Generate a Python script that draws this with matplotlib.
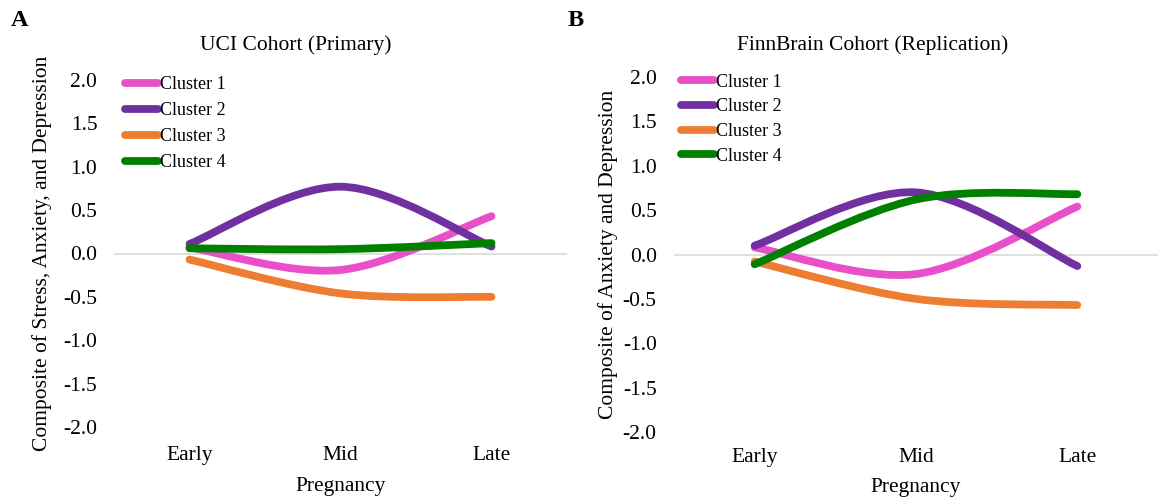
import matplotlib
matplotlib.use('Agg')
import matplotlib.pyplot as plt
from matplotlib.path import Path
from matplotlib.patches import PathPatch
from matplotlib.lines import Line2D

plt.rcParams['font.family'] = ['Liberation Serif', 'DejaVu Serif']

stages = ['Early', 'Mid', 'Late']
clusters = ['Cluster 1', 'Cluster 2', 'Cluster 3', 'Cluster 4']
colors = ['#E84FC8', '#7030A0', '#ED7D31', '#008000']
yticks = [2.0, 1.5, 1.0, 0.5, 0.0, -0.5, -1.0, -1.5, -2.0]

# UCI cohort: composite of stress, anxiety and depression
uci_c1 = [0.07, -0.19, 0.43]
uci_c2 = [0.11, 0.77, 0.08]
uci_c3 = [-0.07, -0.46, -0.50]
uci_c4 = [0.06, 0.05, 0.12]

# FinnBrain cohort: composite of anxiety and depression
finn_c1 = [0.08, -0.22, 0.54]
finn_c2 = [0.10, 0.70, -0.13]
finn_c3 = [-0.08, -0.50, -0.57]
finn_c4 = [-0.11, 0.62, 0.68]

FS = 15.5


def smooth_path(ys):
    # Catmull-Rom style bezier through the points, like a spreadsheet "smoothed line"
    pts = list(zip(range(len(ys)), ys))
    verts = [pts[0]]
    codes = [Path.MOVETO]
    for i in range(len(pts) - 1):
        p0 = pts[i - 1] if i > 0 else pts[i]
        p1 = pts[i]
        p2 = pts[i + 1]
        p3 = pts[i + 2] if i + 2 < len(pts) else pts[i + 1]
        c1 = (p1[0] + (p2[0] - p0[0]) / 6, p1[1] + (p2[1] - p0[1]) / 6)
        c2 = (p2[0] - (p3[0] - p1[0]) / 6, p2[1] - (p3[1] - p1[1]) / 6)
        verts += [c1, c2, p2]
        codes += [Path.CURVE4] * 3
    return Path(verts, codes)


def draw_panel(ax, series, title_x, title, ylabel, ylab_x, ypad, xpad, xlab_y,
               leg_anchor, leg_space):
    ax.axhline(0, color='#d9d9d9', linewidth=1.2, zorder=0)
    for i, (ys, col) in enumerate(zip(series, colors)):
        patch = PathPatch(smooth_path(ys), facecolor='none', edgecolor=col,
                          linewidth=5.6, capstyle='round', joinstyle='round', zorder=2 + i)
        ax.add_patch(patch)
    ax.set_xlim(-0.5, len(stages) - 0.5)
    ax.set_ylim(-2, 2)
    ax.set_xticks(range(len(stages)))
    ax.set_xticklabels(stages)
    ax.set_yticks(yticks)
    ax.set_yticklabels([f'{v:.1f}' for v in yticks])
    ax.tick_params(axis='both', length=0, labelsize=FS)
    ax.tick_params(axis='y', pad=ypad)
    ax.tick_params(axis='x', pad=xpad)
    for s in ax.spines.values():
        s.set_visible(False)
    ax.set_xlabel('Pregnancy', fontsize=FS)
    ax.xaxis.set_label_coords(0.5, xlab_y)
    ax.set_ylabel(ylabel, fontsize=FS)
    ax.yaxis.set_label_coords(ylab_x, 0.5)

    handles = [Line2D([], [], color=c, linewidth=5.6, solid_capstyle='round') for c in colors]
    ax.legend(handles, clusters, loc='upper left', bbox_to_anchor=leg_anchor,
              frameon=False, fontsize=13, handlelength=1.85, handletextpad=0.12,
              labelspacing=leg_space, borderpad=0, borderaxespad=0)
    fig.text(title_x, 1 - 45 / 500, title, ha='center', va='center', fontsize=FS)


fig = plt.figure(figsize=(11.6, 5), dpi=100)
ax1 = fig.add_axes([114 / 1160, 1 - 427 / 500, 453 / 1160, 347 / 500])
ax2 = fig.add_axes([674 / 1160, 1 - 432 / 500, 484 / 1160, 355 / 500])

draw_panel(ax1, [uci_c1, uci_c2, uci_c3, uci_c4], 296 / 1160, 'UCI Cohort (Primary)',
           'Composite of Stress, Anxiety, and Depression', -0.137, 12, 14, -0.145,
           (0.024, 1.012), 0.5)
draw_panel(ax2, [finn_c1, finn_c2, finn_c3, finn_c4], 873 / 1160, 'FinnBrain Cohort (Replication)',
           'Composite of Anxiety and Depression', -0.116, 12.5, 11.5, -0.13,
           (0.014, 1.009), 0.42)

fig.text(20 / 1160, 1 - 21 / 500, 'A', ha='center', va='center', fontsize=17.5, fontweight='bold')
fig.text(576 / 1160, 1 - 21 / 500, 'B', ha='center', va='center', fontsize=17.5, fontweight='bold')

fig.savefig('out.png', dpi=100)
